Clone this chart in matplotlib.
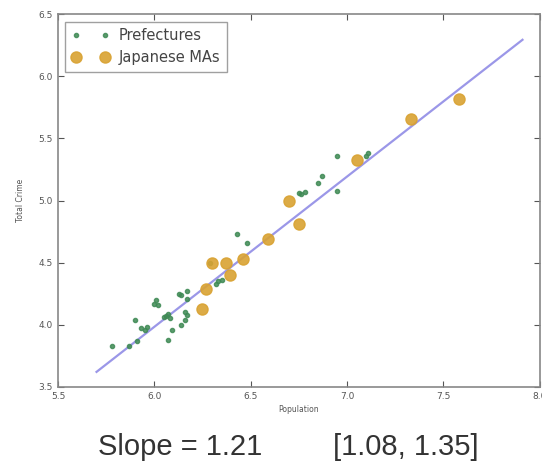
import numpy as np
import matplotlib
matplotlib.use("Agg")
import matplotlib.pyplot as plt

# prefectures (log10 population, log10 total crime)
pref_x = [5.78, 5.87, 5.91, 5.90, 5.93, 5.95, 5.96, 6.01, 6.02, 6.00,
          6.06, 6.08, 6.07, 6.07, 6.09, 6.13, 6.14, 6.17, 6.17, 6.14,
          6.16, 6.17, 6.16, 6.33, 6.35, 6.32, 6.43, 6.48, 6.75, 6.78,
          6.76, 6.85, 6.87, 6.95, 6.95, 7.11, 7.10, 6.29, 6.05]
pref_y = [3.83, 3.83, 3.87, 4.04, 3.97, 3.96, 3.98, 4.20, 4.16, 4.17,
          4.07, 4.05, 4.09, 3.88, 3.96, 4.25, 4.24, 4.27, 4.21, 4.00,
          4.04, 4.08, 4.10, 4.35, 4.36, 4.33, 4.73, 4.66, 5.06, 5.07,
          5.05, 5.14, 5.20, 5.36, 5.08, 5.38, 5.36, 4.50, 4.06]

# metropolitan areas
ma_x = [6.245, 6.27, 6.30, 6.37, 6.39, 6.46, 6.59, 6.70, 6.75, 7.05, 7.33, 7.58]
ma_y = [4.13, 4.29, 4.50, 4.50, 4.40, 4.53, 4.69, 5.00, 4.81, 5.33, 5.66, 5.82]

slope = 1.21
ci = [1.08, 1.35]
fit_x = [5.70, 7.91]
fit_y0 = 3.62

fig = plt.figure(figsize=(5.42, 4.74), dpi=100)
ax = fig.add_axes([0.107, 0.184, 0.889, 0.786])

fx = np.array(fit_x)
ax.plot(fx, fit_y0 + slope * (fx - fit_x[0]), color="#9b97e8", lw=1.6, zorder=1)
ax.plot(pref_x, pref_y, ".", color="#3f8a55", ms=6, alpha=0.85,
        label="Prefectures", zorder=2)
ax.plot(ma_x, ma_y, "o", color="#d9a232", ms=8, mec="#d9a232", alpha=0.9,
        label="Japanese MAs", zorder=3)

ax.set_xlim(5.5, 8.0)
ax.set_ylim(3.5, 6.5)
ax.set_xticks([5.5, 6.0, 6.5, 7.0, 7.5, 8.0])
ax.set_yticks([3.5, 4.0, 4.5, 5.0, 5.5, 6.0, 6.5])
ax.tick_params(direction="in", top=True, right=True, labelsize=6.5,
               colors="#555555", length=4)
for s in ax.spines.values():
    s.set_color("#888888")
    s.set_linewidth(1.2)
ax.set_xlabel("Population", fontsize=5.5, color="#555555", labelpad=3)
ax.set_ylabel("Total Crime", fontsize=5.5, color="#555555", labelpad=10)

leg = ax.legend(loc="upper left", numpoints=2, fontsize=10.5, frameon=True,
                fancybox=False, borderpad=0.45, handletextpad=0.6,
                labelspacing=0.5, handlelength=2.6, borderaxespad=0.5)
leg.get_frame().set_edgecolor("#888888")
for t in leg.get_texts():
    t.set_color("#444444")

fig.text(0.181, 0.057, "Slope = %.2f" % slope, fontsize=21,
         family="Liberation Sans", color="#333333", va="center")
fig.text(0.614, 0.057, "[%.2f, %.2f]" % (ci[0], ci[1]), fontsize=21,
         family="Liberation Sans", color="#333333", va="center")

fig.savefig("out.png", dpi=100)
